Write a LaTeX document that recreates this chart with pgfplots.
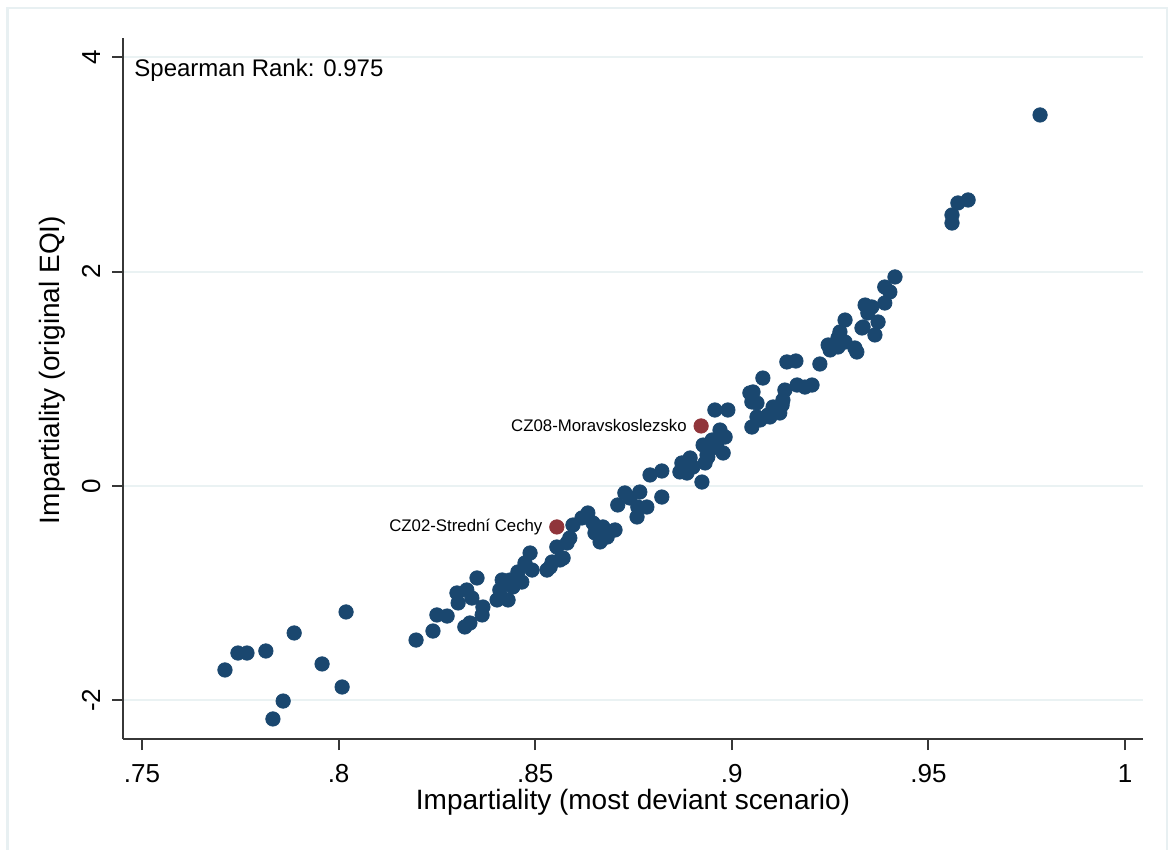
\documentclass[border=0pt]{standalone}
\usepackage{pgfplots}
\pgfplotsset{compat=1.18}
\usepackage{pgfplotstable}
\usepackage{fontspec}
\setmainfont{Liberation Sans}

\definecolor{navy}{RGB}{26,71,111}
\definecolor{maroon}{RGB}{144,53,59}
\definecolor{gridcol}{RGB}{234,242,243}
\definecolor{axiscol}{RGB}{55,55,55}
\definecolor{framecol}{RGB}{232,240,242}

% Impartiality scores: most deviant scenario (x) vs. original EQI (y)
\pgfplotstableread{
x y
0.7711 -1.716
0.7744 -1.558
0.7767 -1.558
0.7815 -1.539
0.7887 -1.371
0.7859 -2.006
0.7833 -2.173
0.7958 -1.660
0.8009 -1.875
0.8019 -1.175
0.8197 -1.437
0.8240 -1.353
0.8250 -1.203
0.8276 -1.213
0.8321 -1.315
0.8334 -1.278
0.8301 -0.998
0.8304 -1.091
0.8326 -0.970
0.8352 -0.858
0.8339 -1.045
0.8365 -1.203
0.8367 -1.129
0.8403 -1.063
0.8410 -0.970
0.8416 -0.877
0.8436 -0.877
0.8431 -1.063
0.8443 -0.942
0.8456 -0.802
0.8474 -0.718
0.8487 -0.625
0.8466 -0.896
0.8492 -0.784
0.8530 -0.784
0.8543 -0.709
0.8555 -0.569
0.8563 -0.690
0.8581 -0.532
0.8571 -0.672
0.8588 -0.485
0.8538 -0.756
0.8596 -0.364
0.8619 -0.298
0.8634 -0.252
0.8652 -0.438
0.8647 -0.345
0.8672 -0.382
0.8703 -0.410
0.8683 -0.476
0.8665 -0.522
0.8710 -0.177
0.8728 -0.065
0.8741 -0.112
0.8766 -0.056
0.8761 -0.196
0.8784 -0.196
0.8759 -0.289
0.8822 -0.103
0.8792 0.103
0.8822 0.140
0.8873 0.215
0.8886 0.121
0.8901 0.177
0.8924 0.037
0.8868 0.131
0.8894 0.261
0.8937 0.289
0.8927 0.382
0.8962 0.401
0.8978 0.308
0.8957 0.709
0.8990 0.709
0.8970 0.522
0.8983 0.457
0.8944 0.336
0.8950 0.429
0.8962 0.364
0.8939 0.271
0.8932 0.215
0.9051 0.550
0.9064 0.644
0.9051 0.784
0.9054 0.877
0.9079 1.007
0.9105 0.737
0.9130 0.802
0.9122 0.681
0.9097 0.644
0.9135 0.895
0.9092 0.662
0.9072 0.616
0.9046 0.868
0.9064 0.774
0.9128 0.756
0.9166 0.942
0.9186 0.923
0.9204 0.942
0.9140 1.157
0.9163 1.166
0.9224 1.138
0.9245 1.315
0.9250 1.269
0.9270 1.381
0.9288 1.343
0.9275 1.437
0.9288 1.548
0.9313 1.287
0.9318 1.250
0.9331 1.474
0.9364 1.409
0.9372 1.530
0.9339 1.688
0.9356 1.670
0.9346 1.614
0.9389 1.707
0.9389 1.856
0.9402 1.810
0.9415 1.950
0.9334 1.483
0.9270 1.297
0.9560 2.528
0.9560 2.453
0.9575 2.640
0.9601 2.668
0.9784 3.461
}\regions

\begin{document}
\begin{tikzpicture}
\useasboundingbox (0,0) rectangle (585.5pt,425pt);
% outer graph frame
\draw[framecol, line width=1.2pt] (3.75pt,-10pt) -- (3.75pt,421pt) -- (583.5pt,421pt) -- (583.5pt,-10pt);

\begin{axis}[
  at={(61.5pt,55.5pt)}, anchor=south west,
  width=510pt, height=350.5pt, scale only axis,
  xmin=0.74517, xmax=1.00458, ymin=-2.360, ymax=4.179,
  axis x line*=bottom, axis y line*=left,
  axis line style={draw=axiscol, line width=1pt, -},
  xtick={0.75,0.8,0.85,0.9,0.95,1},
  xticklabels={.75,.8,.85,.9,.95,1},
  ytick={-2,0,2,4},
  yticklabels={-2,0,2,4},
  tick align=outside, major tick length=5.5pt,
  tick style={draw=axiscol, line width=1pt},
  ymajorgrids, grid style={gridcol, line width=1pt},
  xticklabel style={font=\fontsize{13}{13}\selectfont, anchor=base, inner sep=0pt, yshift=-16pt},
  yticklabel style={font=\fontsize{13}{13}\selectfont, xshift=-6pt, rotate=90, anchor=base, inner sep=0pt},
  clip=false,
]
\addplot[only marks, mark=*, mark size=3.6pt, mark options={fill=navy, draw=navy}] table {\regions};
\addplot[only marks, mark=*, mark size=3.6pt, mark options={fill=maroon, draw=maroon},
  nodes near coords, point meta=explicit symbolic,
  every node near coord/.style={anchor=east, inner sep=0pt, xshift=-7pt, yshift=0pt,
    font=\fontsize{8.4}{8.4}\selectfont, text=black}]
  coordinates {
    (0.8922,0.560) [CZ08-Moravskoslezsko]
    (0.8555,-0.382) [CZ02-Strední Cechy]
  };
\end{axis}

\node[anchor=base west, inner sep=0pt, font=\fontsize{12}{12}\selectfont] at (67pt,386.5pt) {Spearman Rank: 0.975};
\node[anchor=center, inner sep=0pt, font=\fontsize{14}{14}\selectfont] at (316.5pt,24pt) {Impartiality (most deviant scenario)};
\node[anchor=center, inner sep=0pt, rotate=90, font=\fontsize{14}{14}\selectfont] at (26pt,240pt) {Impartiality (original EQI)};
\end{tikzpicture}
\end{document}
